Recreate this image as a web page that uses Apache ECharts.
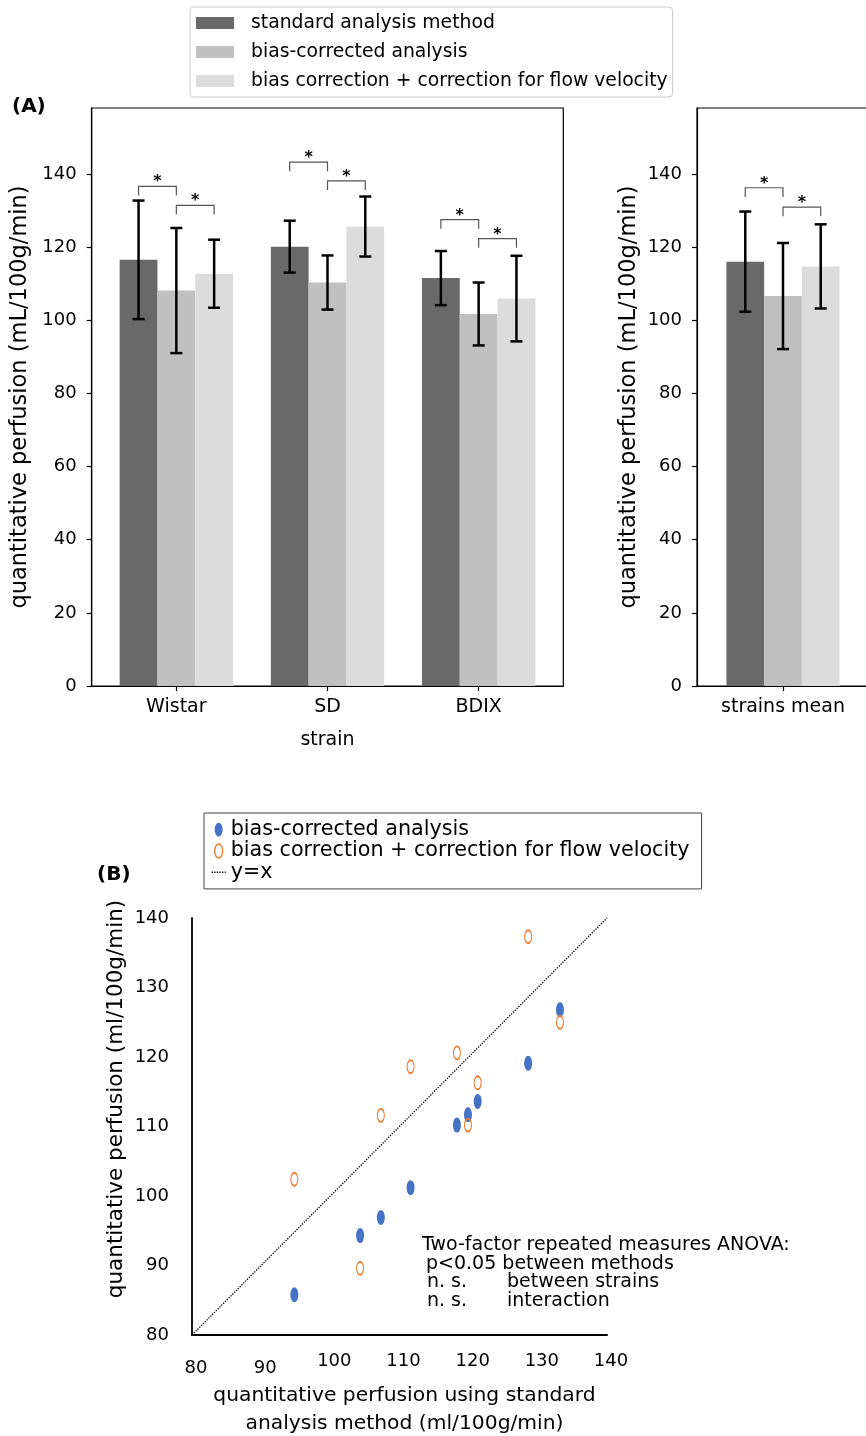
<!DOCTYPE html>
<html>
<head>
<meta charset="utf-8">
<script src="https://cdn.jsdelivr.net/npm/echarts@6/dist/echarts.min.js"></script>
<style>
    html, body { margin: 0; padding: 0; background: #fff; }
    #chart { width: 866px; height: 1436px; }
</style>
</head>
<body>
<div id="chart"></div>
<script>
// 数据
var strains = ['Wistar', 'SD', 'BDIX'];
var meanLabel = ['strains mean'];
var methods = ['standard analysis method', 'bias-corrected analysis', 'bias correction + correction for flow velocity'];
// per method, per strain
var strainMeans = [[116.5, 120.1, 111.5], [108.1, 110.3, 101.7], [112.7, 125.6, 105.9]];
var strainErrors = [[16.2, 7.1, 7.4], [17.1, 7.4, 8.6], [9.3, 8.2, 11.7]];
var overallMeans = [116.0, 106.6, 114.7];
var overallErrors = [13.7, 14.5, 11.5];
// [group, from bar, to bar, bracket height]
var strainBrackets = [[0, 0, 1, 136.6], [0, 1, 2, 131.4], [1, 0, 1, 143.2], [1, 1, 2, 138.1], [2, 0, 1, 127.5], [2, 1, 2, 122.3]];
var meanBrackets = [[0, 0, 1, 136.2], [0, 1, 2, 130.9]];
var perfusionTicks = [0, 20, 40, 60, 80, 100, 120, 140];

// panel B
var standardValues = [94.8, 104.3, 107.3, 111.6, 118.3, 119.9, 121.3, 128.6, 133.2];
var biasCorrectedValues = [85.8, 94.3, 96.9, 101.2, 110.2, 111.7, 113.6, 119.1, 126.8];
var flowCorrectedValues = [102.4, 89.6, 111.6, 118.6, 120.6, 110.2, 116.3, 137.3, 125.0];
var identityRange = [80, 140];
var scatterNames = ['bias-corrected analysis', 'bias correction + correction for flow velocity', 'y=x'];

var FONT = 'DejaVu Sans';
var BAR_W = 0.25;
var LEG = 2.5;
var barColors = ['#696969', '#c0c0c0', '#dcdcdc'];
var BLUE = '#4472c4';
var ORANGE = '#ed7d31';
var ELLIPSE = 'path://M4,0A4,7 0 1 1 4,14A4,7 0 1 1 4,0Z';

function errStyle() {
    return { stroke: '#000', lineWidth: 2.5 };
}

// 柱 + 误差棒
function barItem(m) {
    return function (params, api) {
        var x = api.value(0) + (m - 1) * BAR_W;
        var mean = api.value(1);
        var err = api.value(2);
        var base = api.coord([x - BAR_W / 2, 0]);
        var top = api.coord([x + BAR_W / 2, mean]);
        var hi = api.coord([x, mean + err]);
        var lo = api.coord([x, mean - err]);
        var cap = 6;
        return {
            type: 'group',
            children: [
                { type: 'rect', shape: { x: base[0], y: top[1], width: top[0] - base[0], height: base[1] - top[1] }, style: { fill: barColors[m] } },
                { type: 'line', shape: { x1: hi[0], y1: hi[1], x2: lo[0], y2: lo[1] }, style: errStyle() },
                { type: 'line', shape: { x1: hi[0] - cap, y1: hi[1], x2: hi[0] + cap, y2: hi[1] }, style: errStyle() },
                { type: 'line', shape: { x1: lo[0] - cap, y1: lo[1], x2: lo[0] + cap, y2: lo[1] }, style: errStyle() }
            ]
        };
    };
}

// 显著性括号
function bracketItem(params, api) {
    var g = api.value(0);
    var xa = g + (api.value(1) - 1) * BAR_W;
    var xb = g + (api.value(2) - 1) * BAR_W;
    var h = api.value(3);
    var a0 = api.coord([xa, h - LEG]);
    var a1 = api.coord([xa, h]);
    var b1 = api.coord([xb, h]);
    var b0 = api.coord([xb, h - LEG]);
    return {
        type: 'group',
        children: [
            { type: 'polyline', shape: { points: [a0, a1, b1, b0] }, style: { stroke: '#555', lineWidth: 1.2, fill: null } },
            { type: 'text', x: (a1[0] + b1[0]) / 2, y: a1[1] - 4, style: { text: '*', fontFamily: FONT, fontWeight: 'bold', fontSize: 16, fill: '#000', align: 'center', verticalAlign: 'middle' } }
        ]
    };
}

function barAxisX(idx, min, max, ticks, names) {
    return {
        type: 'value', gridIndex: idx, min: min, max: max,
        splitLine: { show: false },
        axisLine: { onZero: false, lineStyle: { color: '#000', width: 1.2 } },
        axisTick: { show: true, length: 5, customValues: ticks, lineStyle: { color: '#000', width: 1.2 } },
        axisLabel: {
            customValues: ticks, margin: 12, fontFamily: FONT, fontSize: 19, color: '#000',
            formatter: function (v) { return names[Math.round(v)]; }
        }
    };
}

function barAxisY(idx) {
    return {
        type: 'value', gridIndex: idx, min: 0, max: 158,
        name: 'quantitative perfusion (mL/100g/min)', nameLocation: 'middle', nameGap: 56,
        nameTextStyle: { fontFamily: FONT, fontSize: 22.5, color: '#000' },
        splitLine: { show: false },
        axisLine: { show: true, onZero: false, lineStyle: { color: '#000', width: 1.2 } },
        axisTick: { show: true, length: 5, customValues: perfusionTicks, lineStyle: { color: '#000', width: 1.2 } },
        axisLabel: { customValues: perfusionTicks, margin: 15, fontFamily: FONT, fontSize: 18, color: '#000' }
    };
}

function showChart() {
    var chart = echarts.init(document.getElementById('chart'), null, { renderer: 'canvas' });
    var series = [];
    for (var m = 0; m < 3; m++) {
        series.push({
            type: 'custom', name: methods[m], xAxisIndex: 0, yAxisIndex: 0,
            itemStyle: { color: barColors[m] },
            renderItem: barItem(m), encode: { x: 0, y: 1 },
            data: strainMeans[m].map(function (v, i) { return [i, v, strainErrors[m][i]]; })
        });
        series.push({
            type: 'custom', name: methods[m], xAxisIndex: 1, yAxisIndex: 1,
            itemStyle: { color: barColors[m] },
            renderItem: barItem(m), encode: { x: 0, y: 1 },
            data: [[0, overallMeans[m], overallErrors[m]]]
        });
    }
    series.push({
        type: 'custom', xAxisIndex: 0, yAxisIndex: 0, renderItem: bracketItem,
        encode: { x: 0, y: 3 }, data: strainBrackets, silent: true
    });
    series.push({
        type: 'custom', xAxisIndex: 1, yAxisIndex: 1, renderItem: bracketItem,
        encode: { x: 0, y: 3 }, data: meanBrackets, silent: true
    });
    series.push({
        type: 'line', name: scatterNames[2], xAxisIndex: 2, yAxisIndex: 2,
        symbol: 'none', lineStyle: { color: '#000', width: 1.3, type: 'dotted' },
        data: identityRange.map(function (v) { return [v, v]; })
    });
    series.push({
        type: 'scatter', name: scatterNames[0], xAxisIndex: 2, yAxisIndex: 2,
        symbol: 'circle', symbolSize: [8, 15], itemStyle: { color: BLUE, opacity: 1 },
        data: standardValues.map(function (v, i) { return [v, biasCorrectedValues[i]]; })
    });
    series.push({
        type: 'scatter', name: scatterNames[1], xAxisIndex: 2, yAxisIndex: 2,
        symbol: 'circle', symbolSize: [7, 13],
        itemStyle: { color: 'rgba(0,0,0,0)', borderColor: ORANGE, borderWidth: 1.4, opacity: 1 },
        data: standardValues.map(function (v, i) { return [v, flowCorrectedValues[i]]; })
    });

    chart.setOption({
        animation: false,
        backgroundColor: '#fff',
        textStyle: { fontFamily: FONT },
        legend: [
            {
                left: 190, top: 7, orient: 'vertical',
                padding: [6, 5, 6, 6], itemGap: 9, itemWidth: 38, itemHeight: 12,
                borderColor: '#ccc', borderWidth: 1, borderRadius: 4,
                selectedMode: false,
                textStyle: { fontFamily: FONT, fontSize: 18.8, lineHeight: 20, color: '#000', padding: [0, 0, 0, 12] },
                data: methods.map(function (n, m) {
                    return { name: n, icon: 'rect', itemStyle: { color: barColors[m], borderWidth: 0 } };
                })
            },
            {
                left: 204, top: 813, orient: 'vertical',
                padding: [6, 12, 6, 7], itemGap: 0, itemWidth: 14, itemHeight: 14,
                borderColor: '#444', borderWidth: 1, borderRadius: 0,
                selectedMode: false,
                textStyle: { fontFamily: FONT, fontSize: 20.7, lineHeight: 21.3, color: '#000' },
                data: [
                    { name: scatterNames[0], icon: ELLIPSE, itemStyle: { color: BLUE, borderWidth: 0 } },
                    { name: scatterNames[1], icon: ELLIPSE, itemStyle: { color: 'rgba(0,0,0,0)', borderColor: ORANGE, borderWidth: 1.4 } },
                    { name: scatterNames[2], itemStyle: { opacity: 0 }, lineStyle: { color: '#000', width: 1.3, type: 'dotted' } }
                ]
            }
        ],
        grid: [
            { left: 91.7, top: 108, width: 471.6, height: 578, show: true, borderColor: '#000', borderWidth: 1.2, outerBoundsMode: 'none' },
            { left: 697, top: 108, width: 172, height: 578, show: true, borderColor: '#000', borderWidth: 1.2, outerBoundsMode: 'none' },
            { left: 192, top: 918, width: 415, height: 417, outerBoundsMode: 'none' }
        ],
        xAxis: [
            Object.assign(barAxisX(0, -0.56, 2.56, [0, 1, 2], strains), {
                name: 'strain', nameLocation: 'middle', nameGap: 45,
                nameTextStyle: { fontFamily: FONT, fontSize: 19, color: '#000' }
            }),
            barAxisX(1, -0.57, 0.57, [0], meanLabel),
            {
                type: 'value', gridIndex: 2, min: 80, max: 140, interval: 10,
                name: 'quantitative perfusion using standard\nanalysis method (ml/100g/min)',
                nameLocation: 'middle', nameGap: 47,
                nameTextStyle: { fontFamily: FONT, fontSize: 20.3, lineHeight: 28, color: '#000', padding: [0, 0, 0, 10] },
                splitLine: { show: false },
                axisLine: { onZero: false, lineStyle: { color: '#000', width: 2 } },
                axisTick: { show: false },
                axisLabel: {
                    margin: 17,
                    formatter: function (v) { return v <= 90 ? '{low|' + v + '}' : '{n|' + v + '}'; },
                    rich: {
                        low: { fontFamily: FONT, fontSize: 18, color: '#000', padding: [7, 0, 0, 8] },
                        n: { fontFamily: FONT, fontSize: 18, color: '#000', padding: [0, 0, 0, 8] }
                    }
                }
            }
        ],
        yAxis: [
            barAxisY(0),
            barAxisY(1),
            {
                type: 'value', gridIndex: 2, min: 80, max: 140, interval: 10,
                splitLine: { show: false },
                axisLine: { show: true, onZero: false, lineStyle: { color: '#000', width: 1.8 } },
                axisTick: { show: false },
                axisLabel: { margin: 23, fontFamily: FONT, fontSize: 18, color: '#000' }
            }
        ],
        graphic: [
            { type: 'text', left: 12, top: 97, style: { text: '(A)', fontFamily: FONT, fontWeight: 'bold', fontSize: 20, fill: '#000' } },
            { type: 'text', left: 97, top: 865, style: { text: '(B)', fontFamily: FONT, fontWeight: 'bold', fontSize: 20, fill: '#000' } },
            {
                type: 'text', x: 116, y: 1099, rotation: Math.PI / 2,
                style: { text: 'quantitative perfusion (ml/100g/min)', fontFamily: FONT, fontSize: 21.5, fill: '#000', align: 'center', verticalAlign: 'middle' }
            },
            { type: 'text', x: 422, y: 1245.5, style: { text: 'Two-factor repeated measures ANOVA:', fontFamily: FONT, fontSize: 19, fill: '#000', verticalAlign: 'middle' } },
            { type: 'text', x: 426, y: 1264, style: { text: 'p<0.05 between methods', fontFamily: FONT, fontSize: 19, fill: '#000', verticalAlign: 'middle' } },
            { type: 'text', x: 427, y: 1282.5, style: { text: 'n. s.', fontFamily: FONT, fontSize: 19, fill: '#000', verticalAlign: 'middle' } },
            { type: 'text', x: 507, y: 1282.5, style: { text: 'between strains', fontFamily: FONT, fontSize: 19, fill: '#000', verticalAlign: 'middle' } },
            { type: 'text', x: 427, y: 1301, style: { text: 'n. s.', fontFamily: FONT, fontSize: 19, fill: '#000', verticalAlign: 'middle' } },
            { type: 'text', x: 507, y: 1301, style: { text: 'interaction', fontFamily: FONT, fontSize: 19, fill: '#000', verticalAlign: 'middle' } }
        ],
        series: series
    });
}

showChart();
</script>
</body>
</html>
